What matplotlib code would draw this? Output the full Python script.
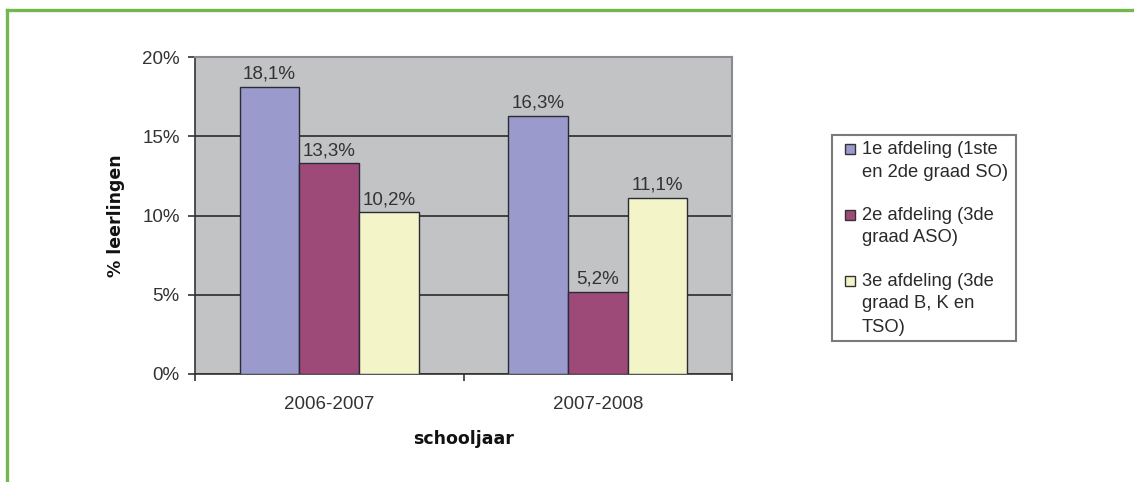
import numpy as np
import matplotlib.pyplot as plt
from matplotlib.lines import Line2D
from matplotlib.patches import Rectangle

# data
years = ['2006-2007', '2007-2008']
series_names = ['1e afdeling (1ste\nen 2de graad SO)',
                '2e afdeling (3de\ngraad ASO)',
                '3e afdeling (3de\ngraad B, K en\nTSO)']
afd1 = [18.1, 16.3]
afd2 = [13.3, 5.2]
afd3 = [10.2, 11.1]
yticks = [0, 5, 10, 15, 20]

colors = ['#9A9ACC', '#9E4A79', '#F3F4C8']
plt.rcParams['font.family'] = ['Liberation Sans', 'DejaVu Sans']

W, H = 1134, 482
fig = plt.figure(figsize=(W / 100, H / 100), dpi=100)
ax = fig.add_axes([195 / W, 1 - 374 / H, 537 / W, 317 / H])
ax.set_facecolor('#C2C3C5')

x = np.arange(len(years))
w = 1 / 4.5
for i, vals in enumerate([afd1, afd2, afd3]):
    bars = ax.bar(x + (i - 1) * w, vals, w, color=colors[i],
                  edgecolor='#2a2a3a', linewidth=1.0, zorder=3)
    ax.bar_label(bars, labels=[f'{v:.1f}%'.replace('.', ',') for v in vals],
                 padding=3, fontsize=13.5, color='#333333')

ax.set_xlim(-0.5, 1.5)
ax.set_ylim(0, 20)
ax.set_yticks(yticks)
ax.set_yticklabels([f'{t}%' for t in yticks])
ax.set_xticks(x)
ax.set_xticklabels(years)
ax.set_xticks([-0.5, 0.5, 1.5], minor=True)

ax.yaxis.grid(True, color='#2b2b2b', linewidth=1.2, zorder=1)
ax.set_axisbelow(True)
ax.tick_params(axis='y', length=5, width=1.2, pad=6, labelsize=13.5,
               labelcolor='#333333', color='#333333')
ax.tick_params(axis='x', which='major', length=0, pad=16, labelsize=13.5,
               labelcolor='#333333')
ax.tick_params(axis='x', which='minor', length=5, width=1.2, color='#333333')

for s in ['top', 'right']:
    ax.spines[s].set_color('#8a8a90')
    ax.spines[s].set_linewidth(1.5)
for s in ['left', 'bottom']:
    ax.spines[s].set_color('#333333')
    ax.spines[s].set_linewidth(1.2)

ax.set_xlabel('schooljaar', family='DejaVu Sans', fontweight='bold',
              fontsize=12.5, labelpad=12, color='#111111')
ax.set_ylabel('% leerlingen', family='DejaVu Sans', fontweight='bold',
              fontsize=12.5, labelpad=12, color='#111111')

# legend drawn by hand so the swatch sits on the first line of each entry
def fx(px):
    return px / W

def fy(py):
    return 1 - py / H

fig.add_artist(Rectangle((fx(832), fy(341)), fx(184), 206 / H, fill=False,
                         edgecolor='#7a7a7a', linewidth=1.5,
                         transform=fig.transFigure))
line_y = 149
for c, name in zip(colors, series_names):
    fig.add_artist(Rectangle((fx(845), fy(line_y + 5)), fx(10), 10 / H,
                             facecolor=c, edgecolor='#333333', linewidth=1,
                             transform=fig.transFigure))
    for ln in name.split('\n'):
        fig.text(fx(862), fy(line_y), ln, fontsize=13.2, color='#2a2a2a',
                 va='center', ha='left')
        line_y += 23
    line_y += 20

# green frame
green = '#72B84C'
fig.add_artist(Line2D([fx(7), 1], [fy(9.5), fy(9.5)],
                      color=green, linewidth=2.4, transform=fig.transFigure))
fig.add_artist(Line2D([fx(7), fx(7)], [0, fy(9.5)],
                      color=green, linewidth=2.4, transform=fig.transFigure))

fig.savefig('out.png', dpi=100)
